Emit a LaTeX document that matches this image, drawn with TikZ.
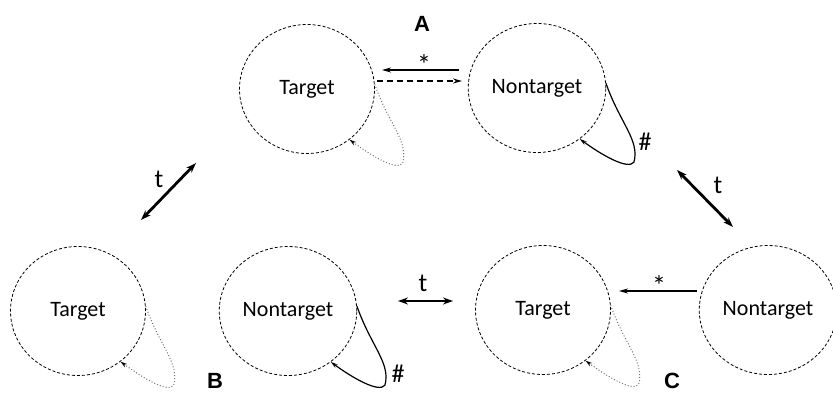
\documentclass[tikz,border=0pt]{standalone}
\usepackage{fontspec}
\setmainfont{Carlito}
\newfontfamily\labelfont{Liberation Sans}
\usetikzlibrary{arrows.meta,shapes.geometric}

\begin{document}
\begin{tikzpicture}[x=1pt, y=-1pt,
        state/.style={ellipse, draw, dash pattern=on 3pt off 2pt, line width=0.8pt, minimum width=135pt, minimum height=129pt, font=\fontsize{22}{24}\selectfont},
        dotloop/.style={draw=black!55, line width=1pt, dotted, -{Stealth[length=7pt, width=4pt, black]}},
        solidloop/.style={draw, line width=1.2pt, -{Stealth[length=7pt, width=4pt]}},
        move/.style={line width=1.3pt, -{Stealth[length=9pt, width=5pt]}},
        switch/.style={line width=2.8pt, {Stealth[length=10pt, width=7pt]}-{Stealth[length=10pt, width=7pt]}},
        sym/.style={font=\fontsize{26}{28}\selectfont},
        star/.style={font=\fontsize{28}{28}\selectfont, inner sep=0pt},
        panel/.style={font=\labelfont\bfseries\fontsize{22}{24}\selectfont}
    ]
        \useasboundingbox (0,0) rectangle (833,396);

        % Panel A
        \node[state] (tA) at (307,89) {Target};
        \node[state] (nA) at (537,88) {Nontarget};
        \node[panel] (labA) at (422,24) {A};

        % Panel B
        \node[state] (tB) at (78,311) {Target};
        \node[state] (nB) at (288,311) {Nontarget};
        \node[panel] (labB) at (215,381) {B};

        % Panel C
        \node[state] (tC) at (543,310) {Target};
        \node[state] (nC) at (768,310) {Nontarget};
        \node[panel] (labC) at (672,381) {C};

        % Self loops
        \foreach \n/\s in {tA/dotloop, nA/solidloop, tB/dotloop, nB/solidloop, tC/dotloop}
            \draw[\s] (\n.4) .. controls +(14,40) and +(6,-22) .. ([shift={(28,79)}]\n.4)
                .. controls +(-6,8) and +(22,16) .. (\n.-50);

        % Transitions between target and nontarget
        \coordinate (aR) at (459,70);
        \coordinate (aL) at (382,70);
        \coordinate (bL) at (377,81);
        \coordinate (bR) at (462,81);
        \coordinate (cR) at (697,291);
        \coordinate (cL) at (619,291);
        \draw[move] (aR) -- (aL);
        \draw[move, dash pattern=on 6pt off 4pt] (bL) -- (bR);
        \draw[move] (cR) -- (cL);
        \node[star] (starA) at (424,65) {*};
        \node[star] (starC) at (659,286) {*};
        \node[sym] (hashA) at (645,142) {\#};
        \node[sym] (hashB) at (398,374) {\#};

        % Switches between panels
        \coordinate (s1a) at (141,220);
        \coordinate (s1b) at (196,163);
        \coordinate (s2a) at (677,170);
        \coordinate (s2b) at (733,227);
        \coordinate (s3a) at (398,301);
        \coordinate (s3b) at (453,301);
        \draw[switch] (s1a) -- (s1b);
        \draw[switch] (s2a) -- (s2b);
        \draw[switch] (s3a) -- (s3b);
        \node[sym] (t1) at (159,179) {t};
        \node[sym] (t2) at (718,185) {t};
        \node[sym] (t3) at (423,283) {t};
    \end{tikzpicture}
\end{document}
